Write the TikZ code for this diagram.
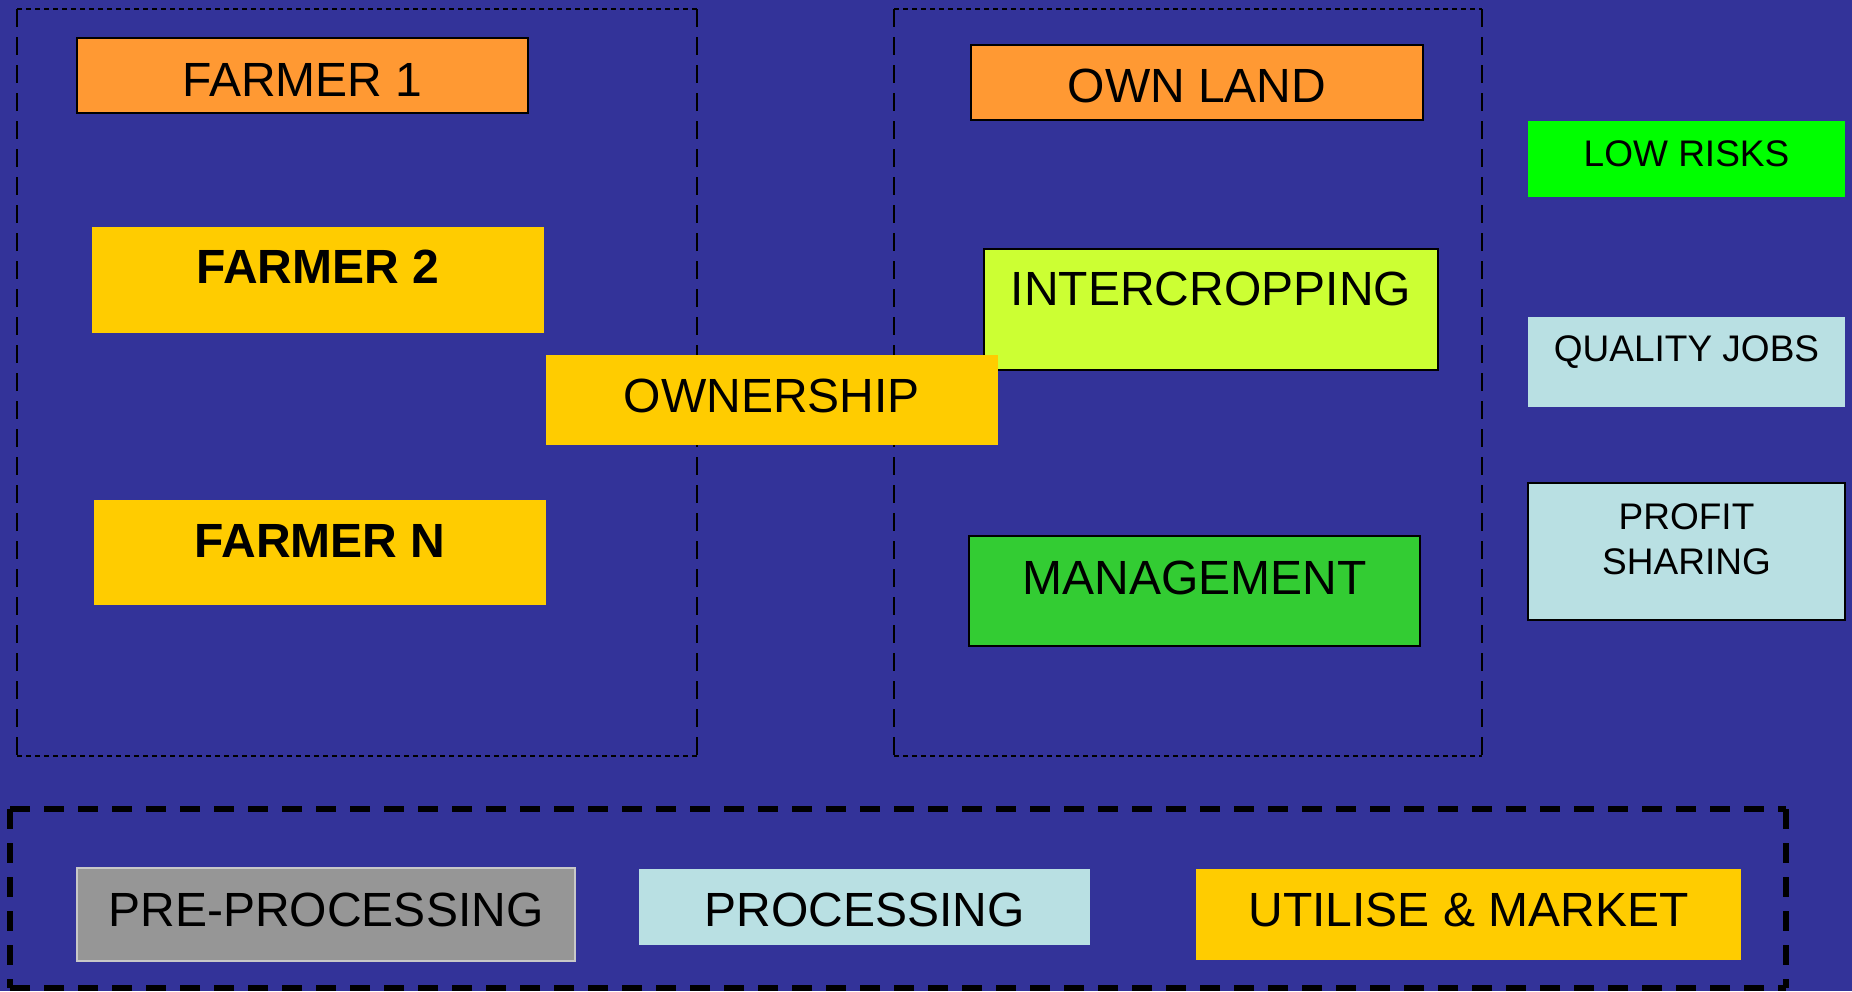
\documentclass[tikz,border=0pt]{standalone}
\usepackage{fontspec}
\setmainfont{Liberation Sans}
\usetikzlibrary{fit}
\definecolor{bg}{HTML}{333399}
\definecolor{orng}{HTML}{FF9933}
\definecolor{yel}{HTML}{FFCC00}
\definecolor{limec}{HTML}{CCFF33}
\definecolor{mgreen}{HTML}{33CC33}
\definecolor{bgreen}{HTML}{00FF00}
\definecolor{lblue}{HTML}{B9E0E3}
\definecolor{gry}{HTML}{969696}
\definecolor{lgry}{HTML}{C8C8C8}
\begin{document}
\begin{tikzpicture}[x=0.5pt,y=-0.5pt,
  card/.style={rectangle, inner sep=0pt, outer sep=0pt},
  bordered/.style={draw=black, line width=1pt},
  big/.style={font=\fontsize{24}{28}\selectfont, anchor=base, inner sep=0pt},
  bigb/.style={anchor=base, inner sep=0pt, font=\fontsize{24}{28}\selectfont\bfseries},
  small/.style={font=\fontsize{18.5}{22}\selectfont, anchor=base, inner sep=0pt},
  hdash/.style={line width=1.3pt, dash pattern=on 2.5pt off 2pt},
  vdash/.style={line width=1.2pt, dash pattern=on 9pt off 5pt},
  bdash/.style={line width=2.8pt, dash pattern=on 10pt off 7pt}]
\useasboundingbox (0,0) rectangle (1852,991);
\fill[bg] (0,0) rectangle (1852,991);

% left dashed group
\draw[hdash] (17,9) -- (697,9);
\draw[hdash] (17,756) -- (697,756);
\draw[vdash] (17,9) -- (17,756);
\draw[vdash] (697,9) -- (697,756);
% right dashed group
\draw[hdash] (894,9) -- (1482,9);
\draw[hdash] (894,756) -- (1482,756);
\draw[vdash] (894,9) -- (894,756);
\draw[vdash] (1482,9) -- (1482,756);
% bottom dashed group
\draw[bdash] (10,809) -- (1786,809);
\draw[bdash] (10,988) -- (1786,988);
\draw[bdash] (10,809) -- (10,988);
\draw[bdash] (1786,809) -- (1786,988);

% farmers
\node[card, bordered, fill=orng, fit={(77,38) (528,113)}] (f1) {};
\node[big] (f1t) at (f1.center |- 0,96) {FARMER 1};
\node[card, fill=yel, fit={(92,227) (544,333)}] (f2) {};
\node[bigb] (f2t) at (f2.center |- 0,283) {FARMER 2};
\node[card, fill=yel, fit={(94,500) (546,605)}] (fn) {};
\node[bigb] (fnt) at (fn.center |- 0,557) {FARMER N};

% right group
\node[card, bordered, fill=orng, fit={(971,45) (1423,120)}] (ol) {};
\node[big] (olt) at (ol.center |- 0,102) {OWN LAND};
\node[card, bordered, fill=limec, fit={(984,249) (1438,370)}] (ic) {};
\node[big] (ict) at (ic.center |- 0,305) {INTERCROPPING};
\node[card, bordered, fill=mgreen, fit={(969,536) (1420,646)}] (mg) {};
\node[big] (mgt) at (mg.center |- 0,594) {MANAGEMENT};

% ownership
\node[card, fill=yel, fit={(546,355) (998,445)}] (ow) {};
\node[big] (owt) at (ow.center |- 0,412) {OWNERSHIP};

% outcomes
\node[card, fill=bgreen, fit={(1528,121) (1845,197)}] (lr) {};
\node[small] (lrt) at (lr.center |- 0,166) {LOW RISKS};
\node[card, fill=lblue, fit={(1528,317) (1845,407)}] (qj) {};
\node[small] (qjt) at (qj.center |- 0,361) {QUALITY JOBS};
\node[card, bordered, fill=lblue, fit={(1528,483) (1845,620)}] (ps) {};
\node[small] (pst1) at (ps.center |- 0,529) {PROFIT};
\node[small] (pst2) at (ps.center |- 0,574) {SHARING};

% chain
\node[card, draw=lgry, line width=1pt, fill=gry, fit={(77,868) (575,961)}] (pp) {};
\node[big] (ppt) at (pp.center |- 0,926) {PRE-PROCESSING};
\node[card, fill=lblue, fit={(639,869) (1090,945)}] (pr) {};
\node[big] (prt) at (pr.center |- 0,926) {PROCESSING};
\node[card, fill=yel, fit={(1196,869) (1741,960)}] (um) {};
\node[big] (umt) at (um.center |- 0,926) {UTILISE \& MARKET};
\end{tikzpicture}
\end{document}
